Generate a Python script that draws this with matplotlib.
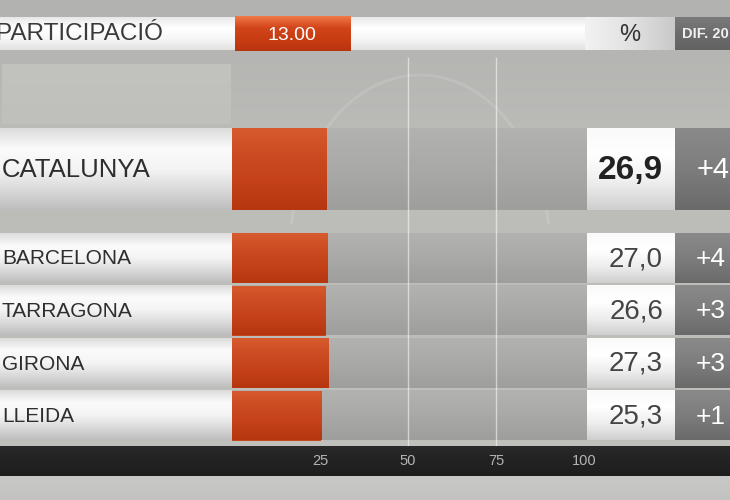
import numpy as np
import matplotlib.pyplot as plt
from matplotlib.colors import LinearSegmentedColormap

regions = ['CATALUNYA', 'BARCELONA', 'TARRAGONA', 'GIRONA', 'LLEIDA']
participation = [26.9, 27.0, 26.6, 27.3, 25.3]
value_labels = ['26,9', '27,0', '26,6', '27,3', '25,3']
diff_labels = ['+4', '+4', '+3', '+3', '+1']
ticks = [25, 50, 75, 100]
hour_label = '13.00'

# layout in pixels (image is 730x500), bar scale: 0 -> px 232, 100 -> px 584
X0 = 232
PPU = 3.52
row_top = [128, 233, 285.5, 338, 390.5]
row_h = [82, 50, 50, 50, 50]

NARROW = ['Liberation Sans Narrow', 'Liberation Sans', 'DejaVu Sans']
SANS = ['Liberation Sans', 'DejaVu Sans']


def px(x):
    return (x - X0) / PPU


fig = plt.figure(figsize=(7.3, 5), dpi=100)
ax = fig.add_axes([0, 0, 1, 1])
ax.axis('off')


def grad(x0, x1, y0, y1, stops, z=1, horiz=False, clip=None):
    arr = np.linspace(0, 1, 128)
    img = arr.reshape(1, -1) if horiz else arr.reshape(-1, 1)
    cmap = LinearSegmentedColormap.from_list('g', stops)
    im = ax.imshow(img, cmap=cmap, extent=[px(x0), px(x1), y1, y0],
                   aspect='auto', interpolation='bilinear', zorder=z)
    if clip is not None:
        im.set_clip_path(clip)
    return im


# backgrounds
grad(0, 730, 0, 500, ['#b2b2b0', '#bdbdba', '#bcbcb9', '#c2c2bf'], z=0)
grad(0, 730, 476, 500, ['#c8c8c6', '#c2c2c0'], z=0.5)
# faint watermark
grad(2, 230, 64, 124, ['#c2c2bf', '#bfbfbc'], z=0.6)
th = np.linspace(np.pi * 0.05, np.pi * 0.95, 100)
ax.plot(px(420 + 130 * np.cos(th)), 250 - 175 * np.sin(th), color='white',
        alpha=0.12, lw=2, zorder=0.7)

# top header
grad(0, 585, 17, 50, ['#e8e8e8', '#ffffff', '#f6f6f6', '#e2e2e2'], z=2)
grad(235, 350, 16, 51, ['#f07a4a', '#d2451a', '#c83c12', '#b8340e'], z=3)
grad(585, 675, 17, 50, ['#f2f2f2', '#e2e2e2', '#c9c9c9'], z=2, horiz=True)
grad(675, 730, 17, 50, ['#7a7a7a', '#6c6c6c', '#626262'], z=2)
ax.text(px(163), 34, 'PARTICIPACIÓ', ha='right', va='center', fontsize=17.5,
        color='#3a3a3a', family=SANS, zorder=5)
ax.text(px(292), 35, hour_label, ha='center', va='center', fontsize=14,
        color='white', family=NARROW, zorder=5)
ax.text(px(630), 35, '%', ha='center', va='center', fontsize=17,
        color='#333333', family=SANS, zorder=5)
ax.text(px(682), 34, 'DIF. 20', ha='left', va='center', fontsize=10.5,
        color='#f0f0f0', family=NARROW, weight='bold', zorder=5)

# gridlines at 50 and 75
for t in ticks[1:3]:
    ax.plot([t, t], [58, 446], color='white', alpha=0.55, lw=1, zorder=2.5)

# rows
centers = [t + h / 2 for t, h in zip(row_top, row_h)]
for i in range(len(regions)):
    t, h = row_top[i], row_h[i]
    grad(0, 232, t, t + h, ['#dcdcdc', '#fbfbfb', '#f4f4f4', '#dadada', '#bdbdbd'], z=2)
    grad(232, 587, t, t + h, ['#b2b2b0', '#a9a9a7', '#9e9e9c'], z=2)
    grad(587, 675, t, t + h, ['#fafafa', '#ffffff', '#eeeeee', '#cfcfcf'], z=2)
    grad(675, 730, t, t + h, ['#8a8a8a', '#7d7d7d', '#6a6a6a'], z=2)

bars = ax.barh(centers, participation, height=row_h, left=0, color='#c8461e',
               zorder=3)
for b in bars:
    y0 = b.get_y()
    y1 = y0 + b.get_height()
    grad(X0, X0 + b.get_width() * PPU, y0, y1,
         ['#d75a2e', '#cc4b22', '#c44119', '#b5360f'], z=3.5, clip=b)

for i, name in enumerate(regions):
    big = i == 0
    ax.text(px(2), centers[i] + 1, name, ha='left', va='center',
            fontsize=18.5 if big else 15, color='#2e2e2e', family=SANS, zorder=5)
    ax.text(px(663), centers[i] + 1, value_labels[i], ha='right', va='center',
            fontsize=24 if big else 20, color='#222222' if big else '#444444',
            weight='bold' if big else 'normal', family=SANS, zorder=5)
    ax.text(px(697 if big else 696), centers[i] + 1, diff_labels[i], ha='left',
            va='center', fontsize=21 if big else 19, color='white',
            family=SANS, zorder=5)

# axis band
grad(0, 730, 446, 476, ['#2a2a2a', '#222222', '#1e1e1e'], z=4)
for t in ticks:
    ax.text(t, 461, str(t), ha='center', va='center', fontsize=10.5,
            color='#b4b4b4', family=NARROW, zorder=5)

ax.set_xlim(px(0), px(730))
ax.set_ylim(500, 0)
fig.savefig('out.png', dpi=100)
